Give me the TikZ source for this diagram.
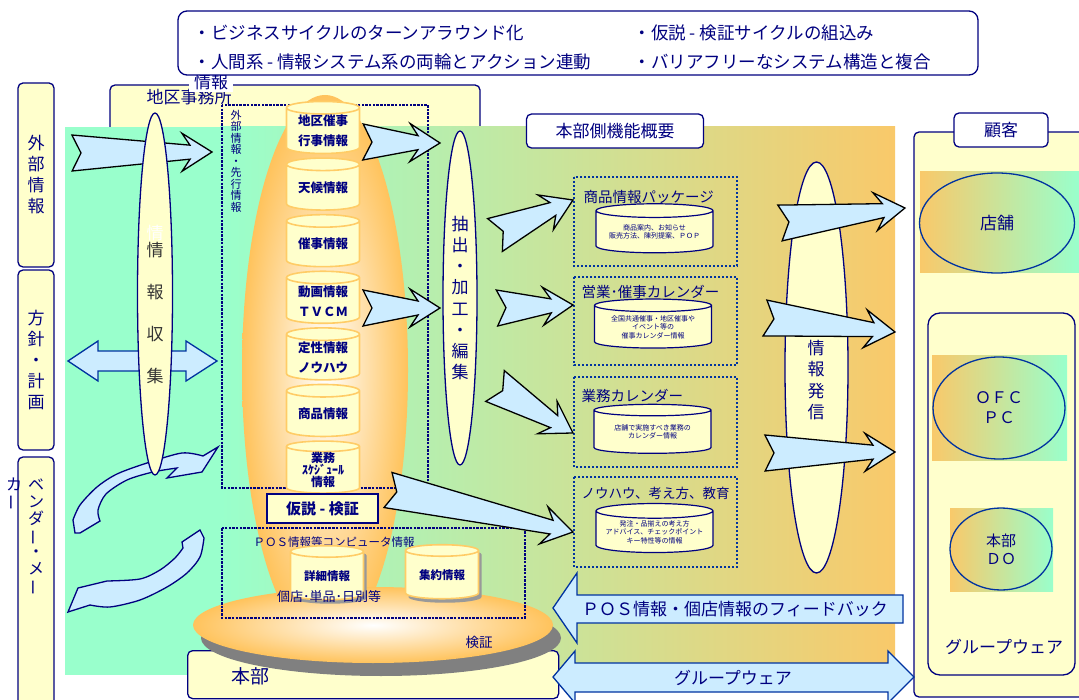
\documentclass[tikz,border=0pt]{standalone}
\usepackage{fontspec}
\setmainfont{Noto Sans CJK JP}
\usepackage{graphicx}
\usetikzlibrary{shapes, shapes.geometric, positioning, calc, shadows}

\definecolor{navy}{HTML}{000080}
\definecolor{edgeblue}{HTML}{0033A0}
\definecolor{lightyel}{HTML}{FFFFCC}
\definecolor{arrowblue}{HTML}{CCECFF}
\definecolor{mint}{HTML}{99FFCC}
\definecolor{bgorange}{HTML}{F9C96A}
\definecolor{candle}{HTML}{FFC35C}
\definecolor{cylorange}{HTML}{FFCC66}

\newcommand{\jsize}[2]{\fontsize{#1}{#2}\selectfont}
\newcommand{\vbar}{\smash{\rotatebox[origin=c]{90}{ー}}}

\tikzset{
    sidebox/.style={
        draw=navy,
        fill=lightyel,
        line width=1.3pt,
        rounded corners=5pt,
    },
    labelbox/.style={
        draw=navy,
        fill=white,
        line width=1.3pt,
        rounded corners=5pt,
    },
    dotbox/.style={
        draw=navy,
        line width=2.5pt,
        dash pattern=on 2.5pt off 1.2pt,
    },
    bluedots/.style={
        draw=edgeblue,
        line width=2pt,
        dash pattern=on 2pt off 2pt,
    },
    spindle/.style={
        ellipse,
        draw=navy,
        fill=lightyel,
        line width=1.3pt,
    },
    blockarrow/.style={
        draw=edgeblue,
        fill=arrowblue,
        line width=1.3pt,
        line join=miter,
    },
    fatarrow/.style={
        draw=black,
        fill=arrowblue,
        line width=1.3pt,
        line join=miter,
    },
    stackcyl/.style={
        cylinder,
        shape border rotate=90,
        aspect=0.25,
        draw=cylorange,
        line width=1.6pt,
        fill=lightyel,
        minimum width=73pt,
        minimum height=52pt,
        inner sep=0pt,
        align=center,
        font=\bfseries\jsize{12.5}{20},
    },
    infocyl/.style={
        cylinder,
        shape border rotate=90,
        aspect=0.15,
        draw=navy,
        line width=1.2pt,
        fill=lightyel,
        minimum width=117pt,
        minimum height=49pt,
        inner sep=0pt,
        align=center,
        font=\jsize{7}{8.5},
    },
    oval/.style={
        ellipse,
        draw=edgeblue,
        line width=1.3pt,
    },
}

% notched fat arrow from a tail coordinate to a tip coordinate
\newcommand{\swallowarrow}[2]{%
  \pgfpointdiff{\pgfpointanchor{#1}{center}}{\pgfpointanchor{#2}{center}}%
  \pgfgetlastxy{\arrdx}{\arrdy}%
  \pgfmathsetmacro\arrang{atan2(\arrdy,\arrdx)}%
  \pgfmathsetmacro\arrlen{veclen(\arrdx,\arrdy)}%
  \pgfmathsetmacro\arrjoin{\arrlen-22}%
  \pgfmathsetmacro\arrbarb{\arrlen-30}%
  \begin{scope}[shift={(#1)}, rotate=\arrang]
    \draw[fatarrow] (0pt,18pt) -- (9pt,0pt) -- (0pt,-18pt) -- (\arrjoin pt,-7pt)
      -- (\arrbarb pt,-19pt) -- (\arrlen pt,0pt) -- (\arrbarb pt,19pt) -- (\arrjoin pt,7pt) -- cycle;
  \end{scope}}

\begin{document}
\begin{tikzpicture}[x=1pt, y=-1pt, text=navy, font=\jsize{12}{14}]
      \useasboundingbox (0,0) rectangle (1079,700);
      \fill[white] (0,0) rectangle (1079,700);

      % regional office
      \draw[sidebox] (110,85) rectangle (480,670);
      \node[font=\jsize{17}{20}] (areaname) at (189,97) {地区事務所};
      \node[fill=white, font=\jsize{17}{20}, inner sep=1pt, minimum width=44pt, minimum height=20pt] (stray) at (211,82) {情報};

      % background
      \fill[mint] (65,127) rectangle (221,675);
      \shade[left color=mint, right color=bgorange] (220,127) rectangle (895,675);

      % top list
      \draw[labelbox, rounded corners=9pt] (178,11) rectangle (978,75);
      \node[font=\jsize{17.5}{20}, anchor=west] (aim1) at (190,33) {・ビジネスサイクルのターンアラウンド化};
      \node[font=\jsize{17.5}{20}, anchor=west] (aim2) at (190,62) {・人間系 - 情報システム系の両輪とアクション連動};
      \node[font=\jsize{17.5}{20}, anchor=west] (aim3) at (630,33) {・仮説 - 検証サイクルの組込み};
      \node[font=\jsize{17.5}{20}, anchor=west] (aim4) at (630,62) {・バリアフリーなシステム構造と複合};

      % left column
      \node[sidebox, minimum width=36pt, minimum height=184pt, align=center, font=\jsize{17}{21}] (outside) at (36,175) {外\\部\\情\\報};
      \node[sidebox, minimum width=36pt, minimum height=180pt, align=center, font=\jsize{17}{21}] (policy) at (36,360) {方\\針\\・\\計\\画};
      \draw[sidebox] (18,457) rectangle (54,720);
      \node[align=center, font=\jsize{16}{16.7}] (vendor) at (36,535) {ベ\\ン\\ダ\\\vbar\\・\\メ\\\vbar};
      \node[align=center, font=\jsize{16}{16}] (vendorrest) at (14,492) {カ\\\vbar};

      % customers
      \draw[sidebox] (914,132) rectangle (1090,697);
      \node[labelbox, minimum width=94pt, minimum height=34pt, font=\jsize{17}{20}] (client) at (1001,130) {顧客};
      \shade[left color=bgorange, right color=mint] (920,172) rectangle (1079,273);
      \node[oval, minimum width=155pt, minimum height=100pt, font=\jsize{17}{20}] (shop) at (997,223) {店舗};
      \draw[sidebox, rounded corners=12pt] (928,313) rectangle (1075,675);
      \node[font=\jsize{17}{20}] (gwlabel) at (1004,647) {グループウェア};
      \shade[left color=bgorange, right color=mint] (932,356) rectangle (1067,460);
      \node[oval, minimum width=132pt, minimum height=102pt, align=center, font=\jsize{16}{20}] (ofc) at (999,408) {ＯＦＣ\\ＰＣ};
      \shade[left color=bgorange, right color=mint] (950,508) rectangle (1053,591);
      \node[oval, minimum width=102pt, minimum height=82pt, align=center, font=\jsize{15}{18}] (hqdo) at (1001,549) {本部\\ＤＯ};

      % collecting arrows
      \coordinate (extTail) at (72,153);
      \coordinate (extTip) at (212,152);
      \swallowarrow{extTail}{extTip}
      \draw[blockarrow] (68,361) -- (98,341) -- (98,351) -- (186,351) -- (186,341) -- (217,361)
        -- (186,381) -- (186,371) -- (98,371) -- (98,381) -- cycle;
      \draw[blockarrow, draw=navy] (75,533) -- plot[smooth] coordinates {(73,520) (80,505) (97,487) (117,474) (147,463) (182,453) (203,456)}
        -- (218,447) -- (202,472) -- (167,478) -- plot[smooth] coordinates {(177,468) (153,472) (127,480) (106,494) (98,510) (100,521)}
        -- (80,533) -- cycle;
      \draw[blockarrow, draw=navy] (182,542) -- (200,530) -- plot[smooth] coordinates {(204,538) (200,557) (187,573) (167,587) (140,600) (110,607) (90,605)}
        -- (68,612) -- (78,588) -- plot[smooth] coordinates {(107,581) (140,579) (160,570) (175,558) (183,548)} -- cycle;

      \node[spindle, minimum width=35pt, minimum height=362pt] (collect) at (155,294) {};
      \node[text=white, font=\jsize{17}{20}] (ghost) at (155,233) {情};
      \node[align=center, text=black!80, font=\jsize{17}{42.3}] (collecttxt) at (155,313) {情\\報\\収\\集};

      % headquarters base
      \node[sidebox, anchor=north west, minimum width=371pt, minimum height=48pt] (hq) at (187,650) {};
      \node[font=\jsize{19}{22}] (hqtxt) at (250,676) {本部};
      \shade[inner color=white, outer color=candle] (325,370) ellipse [x radius=83, y radius=275];
      \fill[gray] (381,638) ellipse [x radius=180, y radius=38];
      \shade[inner color=white, outer color=candle] (373,625) ellipse [x radius=180, y radius=38];
      \node[font=\jsize{13.5}{16}] (check) at (479,642) {検証};

      % information stack
      \draw[dotbox] (222,105) rectangle (428,488);
      \node[align=center, font=\jsize{11}{11.5}] (prior) at (236,161) {外\\部\\情\\報\\・\\先\\行\\情\\報};
      \node[stackcyl] (local) at (323,131) {地区催事\\行事情報};
      \node[stackcyl, below=3pt of local] (weather) {天候情報};
      \node[stackcyl, below=3pt of weather] (event) {催事情報};
      \node[stackcyl, below=3pt of event] (video) {動画情報\\ＴＶＣＭ};
      \node[stackcyl, below=3pt of video] (knowhow) {定性情報\\ノウハウ};
      \node[stackcyl, below=3pt of knowhow] (goods) {商品情報};
      \node[stackcyl, below=3pt of goods, font=\bfseries\jsize{12}{12}] (sched) {業務\\ｽｹｼﾞｭｰﾙ\\情報};
      \node[draw=navy, fill=lightyel, line width=2pt, minimum width=111pt, minimum height=29pt, font=\bfseries\jsize{15}{18}] (hypo) at (322.5,508.5) {仮説 - 検証};

      \draw[dotbox] (222,528) rectangle (525,618);
      \node[anchor=west, font=\jsize{11.5}{14}] (poslabel) at (250,542) {ＰＯＳ情報等コンピュータ情報};
      \node[stackcyl, minimum height=54pt, font=\bfseries\jsize{11.5}{14}, drop shadow={shadow xshift=3pt, shadow yshift=-4pt, fill=gray!80, opacity=1}] (detail) at (327,576) {詳細情報};
      \node[stackcyl, minimum height=54pt, font=\bfseries\jsize{11.5}{14}, drop shadow={shadow xshift=3pt, shadow yshift=-4pt, fill=gray!80, opacity=1}] (summary) at (442,575) {集約情報};
      \node[font=\jsize{13}{15}] (detailsub) at (329,597) {個店･単品･日別等};

      % extraction
      \node[spindle, minimum width=34pt, minimum height=334pt, align=center, font=\jsize{17}{21.1}] (extract) at (460,298) {抽\\出\\・\\加\\工\\・\\編\\集};
      \coordinate (localTail) at (363,142);
      \coordinate (localTip) at (440,143);
      \coordinate (videoTail) at (363,308);
      \coordinate (videoTip) at (440,308);
      \swallowarrow{localTail}{localTip}
      \swallowarrow{videoTail}{videoTip}

      % headquarters functions
      \node[labelbox, minimum width=177pt, minimum height=34pt, font=\jsize{17}{20}] (hqfunc) at (615,131) {本部側機能概要};
      \draw[bluedots] (574,177) rectangle (737,266);
      \node[anchor=west, font=\jsize{14.5}{17}] (pkg) at (580,197) {商品情報パッケージ};
      \node[infocyl] (pkgcyl) at (654.5,232) {商品案内、お知らせ\\販売方法、陳列提案、ＰＯＰ};
      \draw[bluedots] (574,277) rectangle (737,365);
      \node[anchor=west, font=\jsize{14.5}{17}] (cal) at (578,292) {営業･催事カレンダー};
      \node[infocyl] (calcyl) at (653,327) {全国共通催事・地区催事や\\イベント等の\\催事カレンダー情報};
      \draw[bluedots] (574,377) rectangle (737,467);
      \node[anchor=west, font=\jsize{14.5}{17}] (task) at (578,396) {業務カレンダー};
      \node[infocyl] (taskcyl) at (652.5,432) {店舗で実施すべき業務の\\カレンダー情報};
      \draw[bluedots] (574,477) rectangle (737,567);
      \node[anchor=west, font=\jsize{13.5}{16}] (edu) at (578,493) {ノウハウ、考え方、教育};
      \node[infocyl] (educyl) at (654.5,532) {発注・品揃えの考え方\\アドバイス、チェックポイント\\キー特性等の情報};

      \coordinate (pkgTail) at (495,235);
      \coordinate (pkgTip) at (573,200);
      \coordinate (calTail) at (497,308);
      \coordinate (calTip) at (573,305);
      \coordinate (taskTail) at (495,386);
      \coordinate (taskTip) at (573,433);
      \coordinate (hypoTail) at (388,490);
      \coordinate (hypoTip) at (573,532);
      \swallowarrow{pkgTail}{pkgTip}
      \swallowarrow{calTail}{calTip}
      \swallowarrow{taskTail}{taskTip}
      \swallowarrow{hypoTail}{hypoTip}

      % sending
      \node[spindle, minimum width=63pt, minimum height=411pt] (send) at (816.5,367.5) {};
      \node[align=center, font=\jsize{17}{21.3}] (sendtxt) at (816,380) {情\\報\\発\\信};
      \coordinate (shopTail) at (780,223);
      \coordinate (shopTip) at (905,208);
      \coordinate (ofcTail) at (765,318);
      \coordinate (ofcTip) at (895,332);
      \coordinate (doTail) at (765,453);
      \coordinate (doTip) at (895,452);
      \swallowarrow{shopTail}{shopTip}
      \swallowarrow{ofcTail}{ofcTip}
      \swallowarrow{doTail}{doTip}

      % feedback and groupware
      \draw[blockarrow] (553,608) -- (577,573) -- (577,595) -- (903,595) -- (903,623) -- (577,623) -- (577,643) -- cycle;
      \node[font=\jsize{17}{20}] (feedback) at (735,609) {ＰＯＳ情報・個店情報のフィードバック};
      \draw[blockarrow] (553,677) -- (575,651) -- (575,663) -- (888,663) -- (888,651) -- (914,677)
        -- (888,703) -- (888,692) -- (575,692) -- (575,703) -- cycle;
      \node[font=\jsize{17}{20}] (groupware) at (733,678) {グループウェア};
\end{tikzpicture}
\end{document}
